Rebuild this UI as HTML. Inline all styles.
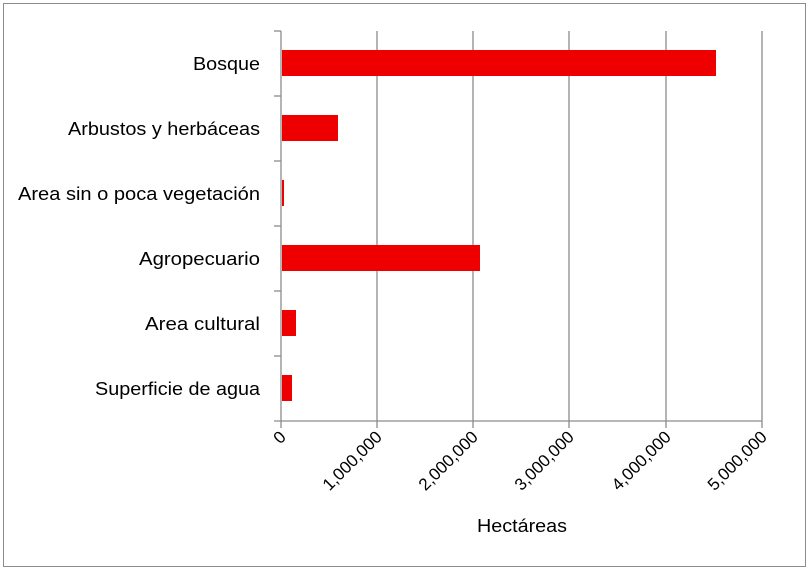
<!DOCTYPE html><html><head><style>body{margin:0;background:#fff}</style></head><body>
<svg width="812" height="570" xmlns="http://www.w3.org/2000/svg" font-family="Liberation Sans, sans-serif">
<rect x="3.5" y="3.5" width="802" height="563" fill="#fff" stroke="#8c8c8c"/>
<g stroke="#8c8c8c" stroke-width="1.3">
<line x1="377" y1="31" x2="377" y2="428"/><line x1="473" y1="31" x2="473" y2="428"/><line x1="569" y1="31" x2="569" y2="428"/><line x1="666" y1="31" x2="666" y2="428"/><line x1="762" y1="31" x2="762" y2="428"/>
<line x1="281" y1="31" x2="281" y2="428"/><line x1="274" y1="421" x2="762" y2="421"/>
<line x1="274" y1="31" x2="281" y2="31"/><line x1="274" y1="96" x2="281" y2="96"/><line x1="274" y1="161" x2="281" y2="161"/><line x1="274" y1="226" x2="281" y2="226"/><line x1="274" y1="291" x2="281" y2="291"/><line x1="274" y1="356" x2="281" y2="356"/>
</g>
<g fill="#ee0000">
<rect x="282" y="50" width="434" height="26"/><rect x="282" y="115" width="56" height="26"/><rect x="282" y="180" width="2" height="26"/><rect x="282" y="245" width="198" height="26"/><rect x="282" y="310" width="14" height="26"/><rect x="282" y="375" width="10" height="26"/>
</g>
<g font-size="18" text-anchor="end" fill="#000" lengthAdjust="spacingAndGlyphs">
<text x="260" y="70" textLength="67" lengthAdjust="spacingAndGlyphs">Bosque</text>
<text x="260" y="135" textLength="192" lengthAdjust="spacingAndGlyphs">Arbustos y herbáceas</text>
<text x="260" y="200" textLength="242" lengthAdjust="spacingAndGlyphs">Area sin o poca vegetación</text>
<text x="260" y="265" textLength="121" lengthAdjust="spacingAndGlyphs">Agropecuario</text>
<text x="260" y="330" textLength="115" lengthAdjust="spacingAndGlyphs">Area cultural</text>
<text x="260" y="395" textLength="165" lengthAdjust="spacingAndGlyphs">Superficie de agua</text>
</g>
<g font-size="17" text-anchor="end">
<text transform="translate(287,438) rotate(-45)">0</text>
<text transform="translate(383,438) rotate(-45)">1,000,000</text>
<text transform="translate(479,438) rotate(-45)">2,000,000</text>
<text transform="translate(575,438) rotate(-45)">3,000,000</text>
<text transform="translate(672,438) rotate(-45)">4,000,000</text>
<text transform="translate(768,438) rotate(-45)">5,000,000</text>
</g>
<text x="522" y="532" font-size="18" text-anchor="middle" textLength="90" lengthAdjust="spacingAndGlyphs">Hectáreas</text>
</svg></body></html>
